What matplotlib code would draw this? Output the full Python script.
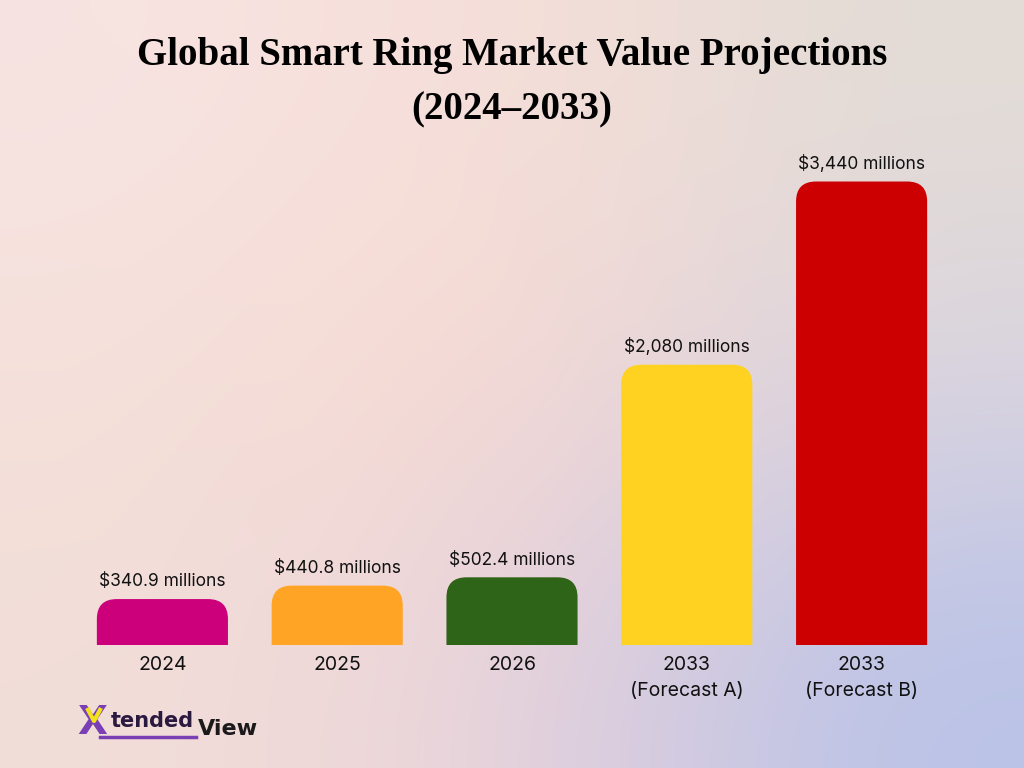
import numpy as np
import matplotlib.pyplot as plt
from matplotlib.colors import to_rgb
from matplotlib.patches import FancyBboxPatch

# Data
categories = ["2024", "2025", "2026", "2033\n(Forecast A)", "2033\n(Forecast B)"]
values = [340.9, 440.8, 502.4, 2080, 3440]
value_labels = ["$340.9 millions", "$440.8 millions", "$502.4 millions",
                "$2,080 millions", "$3,440 millions"]
bar_colors = ["#CC007A", "#FFA424", "#2E6417", "#FFD222", "#CC0000"]

fig = plt.figure(figsize=(10.24, 7.68), dpi=100)

# Background gradient
bg_grid = [["#F7E4E2", "#F8DED8", "#E2DCD6"],
           ["#F5E0DA", "#F8D8D0", "#DAD4E0"],
           ["#F2DED8", "#EAD2DA", "#B8C2E8"]]
bg = np.array([[to_rgb(c) for c in row] for row in bg_grid])
bg_ax = fig.add_axes([0, 0, 1, 1])
bg_ax.imshow(bg, interpolation="bicubic", extent=[0, 1, 0, 1], aspect="auto")
bg_ax.set_axis_off()

# Title
fig.text(0.5, 1 - 56 / 768, "Global Smart Ring Market Value Projections",
         ha="center", va="center", fontsize=28, fontweight="bold",
         family="Liberation Serif", color="black")
fig.text(0.5, 1 - 110 / 768, "(2024\u20132033)", ha="center", va="center",
         fontsize=28, fontweight="bold", family="Liberation Serif", color="black")

# Bars
ax = fig.add_axes([75 / 1024, 1 - 645 / 768, 874 / 1024, 512 / 768])
ax.patch.set_alpha(0)
ymax = 3800
ax.set_xlim(-0.5, len(values) - 0.5)
ax.set_ylim(0, ymax)

width = 0.75
px_x = 874 / len(values)          # pixels per x unit
px_y = 512 / ymax                 # pixels per y unit
radius = 20 / px_x
aspect = px_x / px_y

for i, (v, c, lab) in enumerate(zip(values, bar_colors, value_labels)):
    patch = FancyBboxPatch((i - width / 2, -500), width, v + 500,
                           boxstyle=f"round,pad=0,rounding_size={radius}",
                           mutation_aspect=aspect, facecolor=c,
                           edgecolor="none")
    ax.add_patch(patch)
    ax.text(i, v + 65, lab, ha="center", va="bottom", fontsize=12.5,
            family="Inter", color="#111111")

ax.set_xticks(range(len(values)))
ax.set_xticklabels(categories, fontsize=14, family="Inter", color="#111111",
                   linespacing=1.55)
ax.tick_params(axis="x", length=0, pad=8)
ax.set_yticks([])
for s in ax.spines.values():
    s.set_visible(False)

# Logo
fig.text(77 / 1024, 1 - 723 / 768, "X", fontsize=28, fontweight="bold",
         family="DejaVu Sans", color="#7B3FB5", va="center", ha="left")
fig.add_artist(plt.Line2D([87 / 1024, 94 / 1024, 101 / 1024],
                          [1 - 708 / 768, 1 - 721 / 768, 1 - 708 / 768],
                          color="#F2E21A", lw=3, solid_capstyle="butt",
                          zorder=10))
fig.text(111 / 1024, 1 - 721 / 768, "tended", fontsize=15, fontweight="bold",
         family="DejaVu Sans", color="#2A1A40", va="center", ha="left")
fig.text(198 / 1024, 1 - 729 / 768, "View", fontsize=16, fontweight="bold",
         family="DejaVu Sans", color="#1A1A1A", va="center", ha="left")
fig.add_artist(plt.Line2D([100 / 1024, 196 / 1024], [1 - 737 / 768, 1 - 737 / 768],
                          color="#7B3FB5", lw=2.5))

fig.savefig("out.png", dpi=100)
